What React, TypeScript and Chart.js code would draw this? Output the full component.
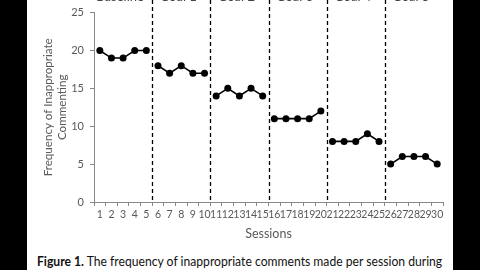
import React, { useEffect, useRef } from "react";
import { Chart, registerables } from "chart.js";

Chart.register(...registerables);

const sessions = Array.from({ length: 30 }, (_, i) => String(i + 1));
const phaseLabels = ["Baseline", "Goal 1", "Goal 2", "Goal 3", "Goal 4", "Goal 5"];
const baseline = [20, 19, 19, 20, 20];
const goal1 = [18, 17, 18, 17, 17];
const goal2 = [14, 15, 14, 15, 14];
const goal3 = [11, 11, 11, 11, 12];
const goal4 = [8, 8, 8, 9, 8];
const goal5 = [5, 6, 6, 6, 5];
const phases = [baseline, goal1, goal2, goal3, goal4, goal5];
const yTicks = [0, 5, 10, 15, 20, 25];

const FONT = "Lato, 'Open Sans', sans-serif";

const phasePlugin = {
  id: "phases",
  afterDatasetsDraw(chart: any) {
    const ctx = chart.ctx;
    const xs = chart.scales.x;
    const area = chart.chartArea;
    ctx.save();
    let start = 0;
    phases.forEach((p, k) => {
      const end = start + p.length;
      const left = k === 0 ? area.left : (xs.getPixelForValue(start - 1) + xs.getPixelForValue(start)) / 2;
      const right = end >= sessions.length ? area.right : (xs.getPixelForValue(end - 1) + xs.getPixelForValue(end)) / 2;
      if (k > 0) {
        ctx.strokeStyle = "#000";
        ctx.lineWidth = 1.3;
        ctx.setLineDash([4, 3]);
        ctx.beginPath();
        ctx.moveTo(Math.round(left) + 0.5, 0);
        ctx.lineTo(Math.round(left) + 0.5, area.bottom);
        ctx.stroke();
      }
      ctx.setLineDash([]);
      ctx.fillStyle = "#444";
      ctx.font = "13px " + FONT;
      ctx.textAlign = "center";
      ctx.textBaseline = "bottom";
      ctx.fillText(phaseLabels[k], (left + right) / 2 - 3, 3);
      start = end;
    });
    ctx.restore();
  },
};

function App() {
  const ref = useRef<HTMLCanvasElement>(null);
  useEffect(() => {
    let offset = 0;
    const datasets = phases.map((p) => {
      const data = sessions.map((_, i) => (i >= offset && i < offset + p.length ? p[i - offset] : null));
      offset += p.length;
      return {
        data,
        borderColor: "#000",
        backgroundColor: "#000",
        borderWidth: 1.6,
        pointRadius: 3.5,
        pointBorderWidth: 0,
        spanGaps: false,
      };
    });
    const chart = new Chart(ref.current!, {
      type: "line",
      data: { labels: sessions, datasets },
      options: {
        animation: false,
        responsive: false,
        layout: { padding: { top: 12, right: 10, left: 0, bottom: 0 } },
        plugins: { legend: { display: false }, tooltip: { enabled: false } },
        scales: {
          x: {
            offset: true,
            grid: { display: true, offset: true, drawOnChartArea: false, color: "#888", tickLength: 4 },
            border: { color: "#888" },
            ticks: { autoSkip: false, maxRotation: 0, color: "#595959", font: { family: FONT, size: 10.5 }, padding: 2 },
            title: { display: true, text: "Sessions", color: "#595959", font: { family: FONT, size: 12.5 }, padding: { top: 2 } },
            afterFit(s: any) { s.height = 43; },
          },
          y: {
            min: 0,
            max: 25,
            afterBuildTicks(s: any) { s.ticks = yTicks.map((v) => ({ value: v })); },
            grid: { display: true, drawOnChartArea: false, color: "#888", tickLength: 4 },
            border: { color: "#888" },
            ticks: { color: "#595959", font: { family: FONT, size: 11 }, padding: 6 },
            title: { display: true, text: ["Frequency of Inappropriate", "Commenting"], color: "#595959", font: { family: FONT, size: 11.6, lineHeight: 1.22 }, padding: { top: 14, bottom: 0 } },
            afterFit(s: any) { s.width = 67; },
          },
        },
      },
      plugins: [phasePlugin],
    });
    return () => chart.destroy();
  }, []);

  return (
    <div style={{ position: "fixed", left: 0, top: 0, width: 480, height: 270, background: "#000", overflow: "hidden" }}>
      <div style={{ position: "absolute", left: 27, top: 0, width: 426, height: 270, background: "#fff" }}>
        <canvas ref={ref} width={426} height={245} style={{ position: "absolute", left: 0, top: 0 }} />
        <div style={{ position: "absolute", left: 10, top: 253, whiteSpace: "nowrap", fontFamily: FONT, fontSize: 13, color: "#111", transform: "scaleX(0.935)", transformOrigin: "0 0" }}>
          <b>Figure 1.</b> The frequency of inappropriate comments made per session during
        </div>
      </div>
    </div>
  );
}

export default App;
